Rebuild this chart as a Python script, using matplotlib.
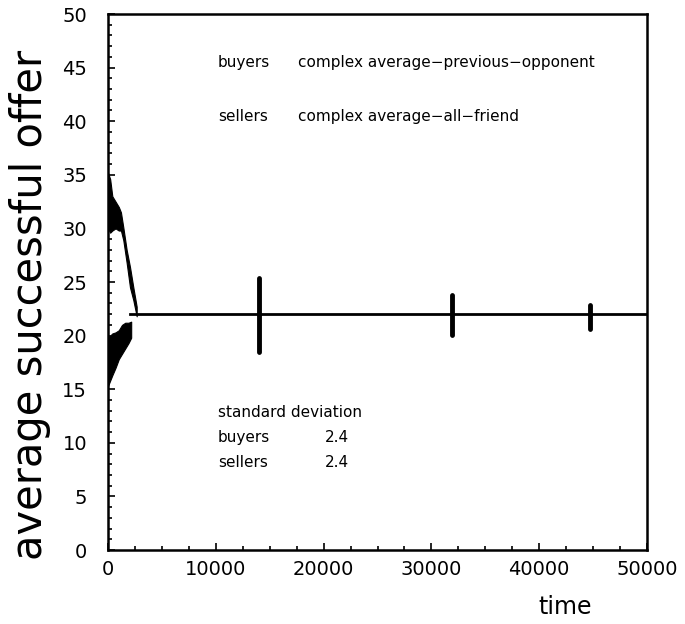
import matplotlib
matplotlib.use("Agg")
import matplotlib.pyplot as plt
from matplotlib.ticker import MultipleLocator

plt.rcParams['font.family'] = ['DejaVu Sans']

# early transient: spread of offers (time, upper edge, lower edge)
sellers_t = [0, 200, 400, 700, 1000, 1200, 1420, 1730, 2040, 2350, 2660]
sellers_hi = [35.2, 34.6, 33.0, 32.5, 32.0, 31.5, 30.1, 28.0, 26.4, 24.5, 22.7]
sellers_lo = [30.0, 29.6, 29.8, 30.0, 29.8, 29.8, 28.9, 26.8, 24.5, 23.3, 21.8]

buyers_t = [0, 200, 400, 700, 1000, 1300, 1600, 1900, 2150]
buyers_hi = [19.8, 20.0, 20.2, 20.3, 20.5, 21.0, 21.2, 21.2, 21.3]
buyers_lo = [15.3, 15.8, 16.3, 17.0, 17.8, 18.3, 18.8, 19.3, 19.8]

# converged price after the transient
eq_t = [2000, 50000]
eq_offer = [22.0, 22.0]

# short disturbances of the equilibrium
spike_t = [14050, 31900, 44700]
spike_lo = [18.5, 20.1, 20.6]
spike_hi = [25.4, 23.8, 22.9]

fig = plt.figure(figsize=(6.85, 6.24), dpi=100)
ax = fig.add_axes([108 / 685, 1 - 550 / 624, 539 / 685, 536 / 624])

ax.fill_between(sellers_t, sellers_lo, sellers_hi, color='black', lw=0.8)
ax.fill_between(buyers_t, buyers_lo, buyers_hi, color='black', lw=0.8)
ax.plot(eq_t, eq_offer, color='black', lw=2.0)
ax.vlines(spike_t, spike_lo, spike_hi, color='black', lw=3.5, capstyle='round')

ax.set_xlim(0, 50000)
ax.set_ylim(0, 50)
ax.xaxis.set_major_locator(MultipleLocator(10000))
ax.xaxis.set_minor_locator(MultipleLocator(2500))
ax.yaxis.set_major_locator(MultipleLocator(5))
ax.yaxis.set_minor_locator(MultipleLocator(1))
ax.tick_params(which='both', direction='in', top=False, right=False, width=1.2)
ax.tick_params(which='major', length=5, labelsize=14)
ax.tick_params(axis='y', which='major', pad=15)
ax.tick_params(axis='x', which='major', pad=7)
ax.tick_params(which='minor', length=3)
for sp in ax.spines.values():
    sp.set_linewidth(1.8)

# labels
fig.text(565 / 685, 1 - 607 / 624, 'time', ha='center', va='center', fontsize=17)
fig.text(30 / 685, 1 - 305 / 624, 'average successful offer', rotation=90,
         ha='center', va='center', fontsize=30)

txt = dict(fontsize=11, va='center', ha='left')
ax.text(10200, 45.5, 'buyers', **txt)
ax.text(17600, 45.5, 'complex average\u2212previous\u2212opponent', **txt)
ax.text(10200, 40.4, 'sellers', **txt)
ax.text(17600, 40.4, 'complex average\u2212all\u2212friend', **txt)
ax.text(10200, 12.8, 'standard deviation', **txt)
ax.text(10200, 10.45, 'buyers', **txt)
ax.text(20100, 10.45, '2.4', **txt)
ax.text(10200, 8.2, 'sellers', **txt)
ax.text(20100, 8.2, '2.4', **txt)

fig.savefig('out.png', dpi=100)
